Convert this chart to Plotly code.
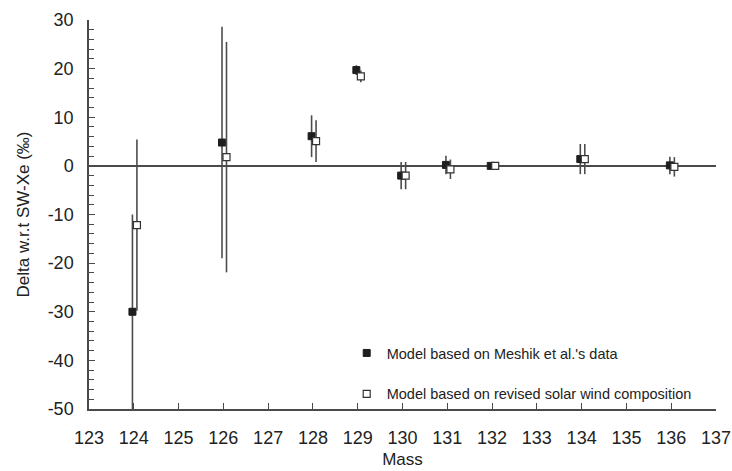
import plotly.graph_objects as go

mass = [124, 126, 128, 129, 130, 131, 132, 134, 136]
meshik = [-30.0, 4.8, 6.1, 19.7, -2.0, 0.2, 0.0, 1.4, 0.1]
meshik_err = [20.0, 23.8, 4.3, 1.0, 2.8, 1.9, 0.3, 3.1, 1.8]
revised = [-12.2, 1.8, 5.1, 18.4, -2.0, -0.7, 0.0, 1.4, -0.2]
revised_err = [17.6, 23.7, 4.3, 1.2, 2.8, 2.0, 0.3, 3.1, 2.0]
names = ["Model based on Meshik et al.'s data",
         "Model based on revised solar wind composition"]
x_ticks = list(range(123, 138))
y_ticks = list(range(-50, 31, 10))

FONT = "Liberation Sans, Arial, sans-serif"
AX = "#4a4a4a"

fig = go.Figure()
fig.add_trace(go.Scatter(
    x=[m - 0.03 for m in mass], y=meshik, mode="markers", name=names[0],
    legendgroup="a",
    marker=dict(symbol="square", size=7, color="#1e1e1e", line=dict(color="#1e1e1e", width=1)),
    error_y=dict(type="data", array=meshik_err, visible=True, width=0, thickness=1.6, color="#4d4d4d"),
))
fig.add_trace(go.Scatter(
    x=[m + 0.07 for m in mass], y=revised, mode="markers", name=names[1],
    legendgroup="b",
    marker=dict(symbol="square", size=7, color="white", line=dict(color="#333333", width=1.2)),
    error_y=dict(type="data", array=revised_err, visible=True, width=0, thickness=1.6, color="#4d4d4d"),
))

fig.update_layout(
    width=732, height=471,
    margin=dict(l=89, r=16, t=20, b=62),
    paper_bgcolor="white", plot_bgcolor="white",
    font=dict(family=FONT, size=17, color="#222222"),
    showlegend=True,
    legend=dict(x=0.411, y=0.185, xanchor="left", yanchor="top",
                bgcolor="rgba(0,0,0,0)", font=dict(size=14.5, color="#222222"),
                traceorder="grouped", tracegroupgap=19),
    xaxis=dict(range=[123, 137], tickvals=x_ticks, ticktext=[str(v) for v in x_ticks],
               ticks="inside", ticklen=6, tickwidth=1.2, tickcolor=AX, automargin=False,
               showline=True, linecolor=AX, linewidth=1.5, showgrid=False, zeroline=False,
               title=dict(text="Mass", font=dict(size=17), standoff=6),
               tickfont=dict(size=18), ticklabelstandoff=12),
    yaxis=dict(range=[-50, 30], tickvals=y_ticks, ticktext=[str(v) for v in y_ticks],
               ticks="inside", ticklen=6, tickwidth=1.2, tickcolor=AX, automargin=False,
               minor=dict(dtick=2, ticks="inside", ticklen=5, tickwidth=1, tickcolor=AX),
               showline=True, linecolor=AX, linewidth=1.5, showgrid=False,
               zeroline=True, zerolinecolor=AX, zerolinewidth=1.5,
               title=dict(text="Delta w.r.t SW-Xe (‰)", font=dict(size=17), standoff=14),
               tickfont=dict(size=18), ticklabelstandoff=10),
)

fig.write_html("out.html")
